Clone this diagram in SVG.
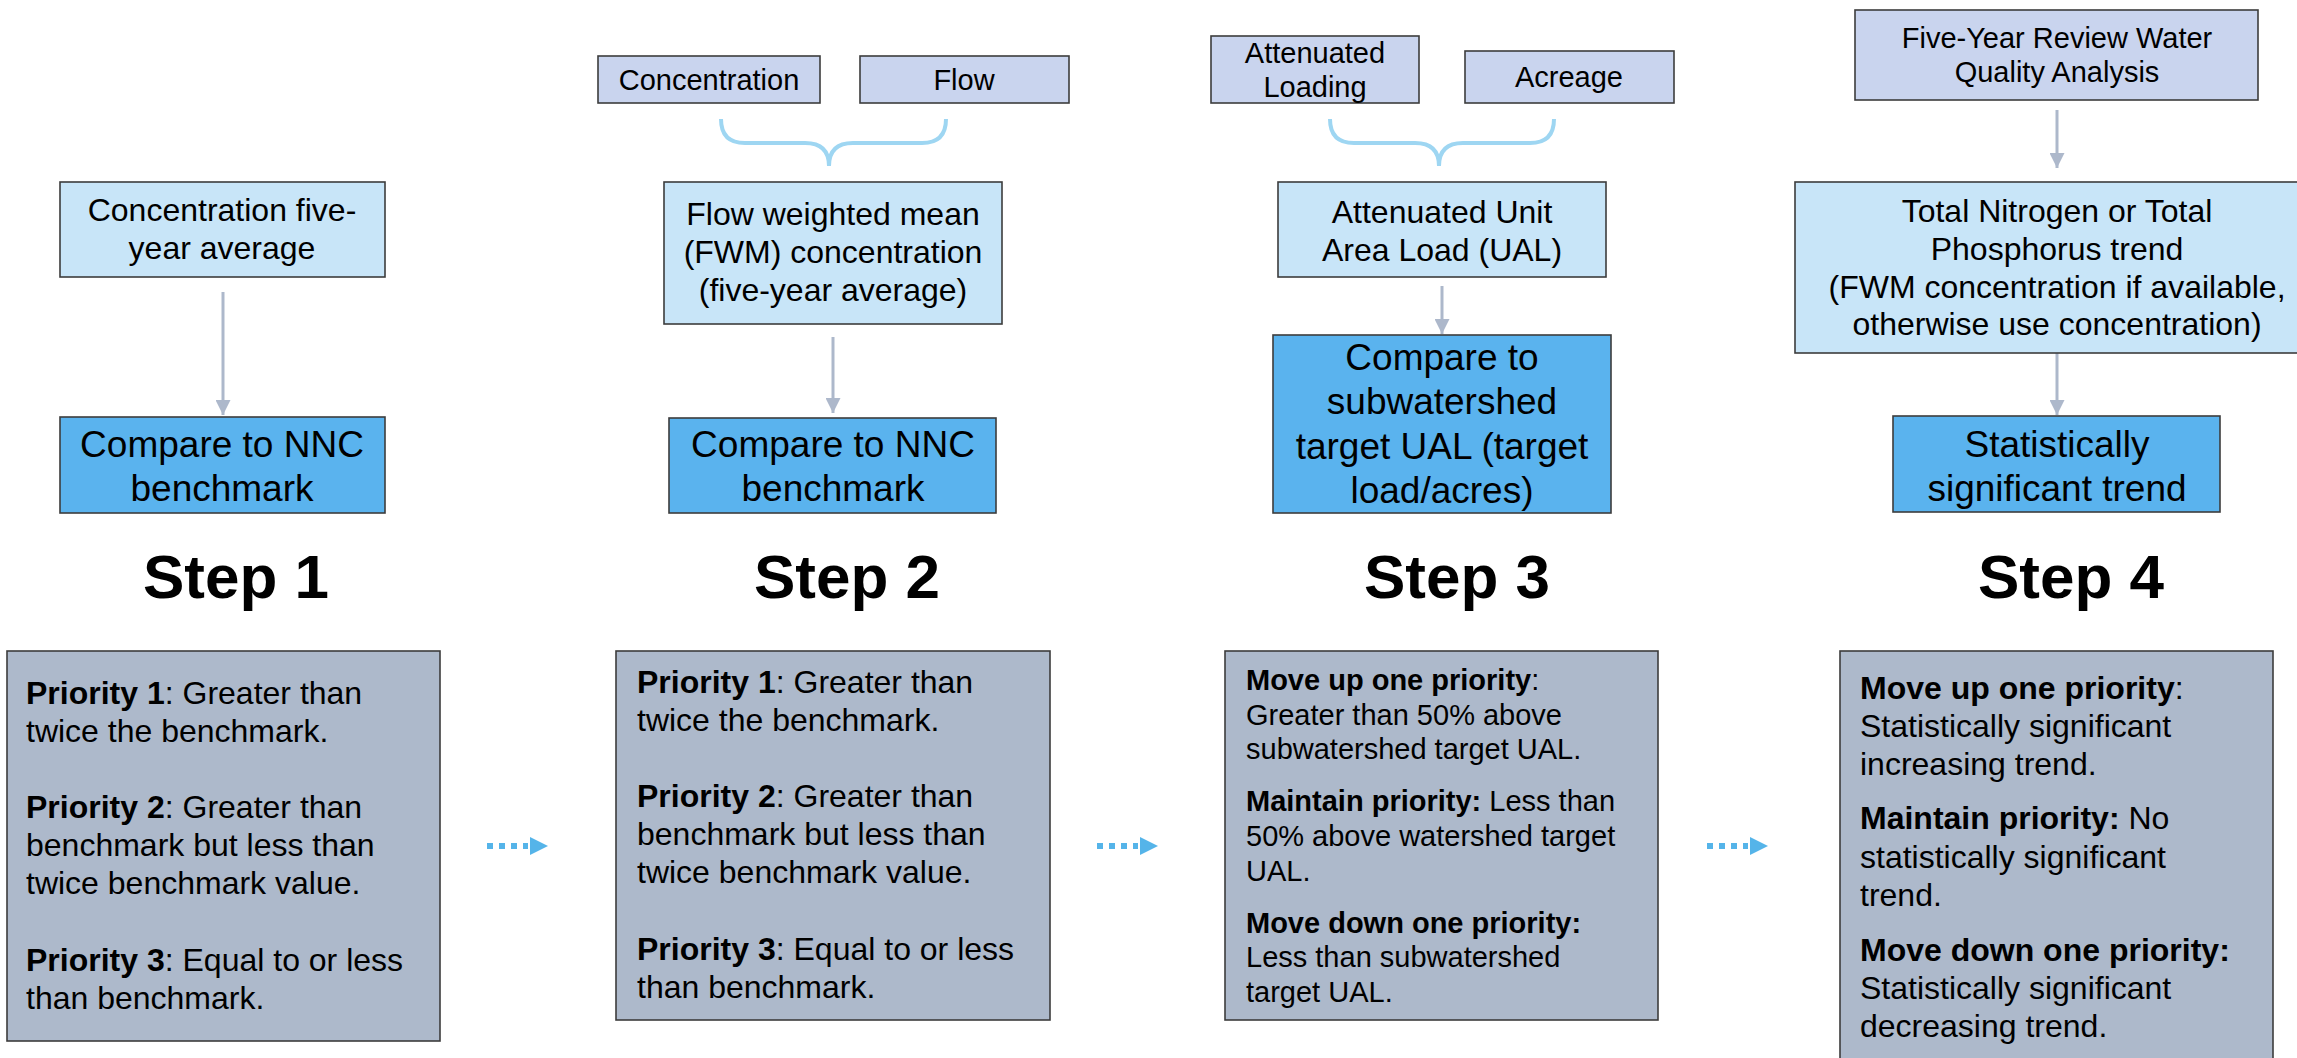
<svg xmlns="http://www.w3.org/2000/svg" width="2297" height="1058" viewBox="0 0 2297 1058">
<defs>
<style>
text{font-family:"Liberation Sans",Arial,sans-serif;fill:#000}
.box{stroke:#3c3c3c;stroke-width:1.6}
.in{fill:#C9D4EE}
.lt{fill:#C8E5F8}
.cmp{fill:#5AB3EE}
.pri{fill:#ADB9CB}
.t29{font-size:29px}
.t32{font-size:32px}
.t37{font-size:37px}
.c{text-anchor:middle}
.step{font-size:62px;font-weight:bold;text-anchor:middle}
.conn{stroke:#ADB8CB;stroke-width:3;fill:none}
.brace{stroke:#9ED6F2;stroke-width:4;fill:none}
.dot{stroke:#55B4E9;stroke-width:6;stroke-dasharray:6 6;fill:none}
b,.b{font-weight:bold}
</style>
<marker id="ah" markerWidth="5" markerHeight="5" refX="5" refY="2.5" orient="auto" markerUnits="strokeWidth">
<path d="M0,0 L5,2.5 L0,5 Z" fill="#ADB8CB"/>
</marker>
</defs>
<rect width="2297" height="1058" fill="#fff"/>

<g id="connectors">
<path class="conn" d="M223,292 V415" marker-end="url(#ah)"/>
<path class="conn" d="M833,337 V413" marker-end="url(#ah)"/>
<path class="conn" d="M1442,286 V334" marker-end="url(#ah)"/>
<path class="conn" d="M2057,110 V168" marker-end="url(#ah)"/>
<path class="conn" d="M2057,353 V415" marker-end="url(#ah)"/>
<path class="brace" d="M721,119 Q721,143 745,143 L805,143 Q829,143 829,166 Q829,143 853,143 L922,143 Q946,143 946,119"/>
<path class="brace" d="M1330,119 Q1330,143 1354,143 L1415,143 Q1439,143 1439,166 Q1439,143 1463,143 L1530,143 Q1554,143 1554,119"/>
<g id="flow12"><path class="dot" d="M487,846 H528"/><path d="M530,837 L548,846 L530,855 Z" fill="#55B4E9"/></g>
<g id="flow23"><path class="dot" d="M1097,846 H1138"/><path d="M1140,837 L1158,846 L1140,855 Z" fill="#55B4E9"/></g>
<g id="flow34"><path class="dot" d="M1707,846 H1748"/><path d="M1750,837 L1768,846 L1750,855 Z" fill="#55B4E9"/></g>
</g>

<g id="step1">
<g id="s1-input"><rect class="box lt" x="60" y="182" width="325" height="95"/>
<text class="t32 c" x="222" y="221">Concentration five-</text>
<text class="t32 c" x="222" y="259">year average</text></g>
<g id="s1-compare"><rect class="box cmp" x="60" y="417" width="325" height="96"/>
<text class="t37 c" x="222" y="457">Compare to NNC</text>
<text class="t37 c" x="222" y="501">benchmark</text></g>
<text id="s1-label" class="step" x="236" y="598">Step 1</text>
<g id="s1-priority"><rect class="box pri" x="7" y="651" width="433" height="390"/>
<text class="t32" x="26" y="704"><tspan class="b">Priority 1</tspan>: Greater than</text>
<text class="t32" x="26" y="742">twice the benchmark.</text>
<text class="t32" x="26" y="818"><tspan class="b">Priority 2</tspan>: Greater than</text>
<text class="t32" x="26" y="856">benchmark but less than</text>
<text class="t32" x="26" y="894">twice benchmark value.</text>
<text class="t32" x="26" y="971"><tspan class="b">Priority 3</tspan>: Equal to or less</text>
<text class="t32" x="26" y="1009">than benchmark.</text></g>
</g>

<g id="step2">
<g id="s2-conc"><rect class="box in" x="598" y="56" width="222" height="47"/>
<text class="t29 c" x="709" y="90">Concentration</text></g>
<g id="s2-flow"><rect class="box in" x="860" y="56" width="209" height="47"/>
<text class="t29 c" x="964" y="90">Flow</text></g>
<g id="s2-fwm"><rect class="box lt" x="664" y="182" width="338" height="142"/>
<text class="t32 c" x="833" y="225">Flow weighted mean</text>
<text class="t32 c" x="833" y="263">(FWM) concentration</text>
<text class="t32 c" x="833" y="301">(five-year average)</text></g>
<g id="s2-compare"><rect class="box cmp" x="669" y="418" width="327" height="95"/>
<text class="t37 c" x="833" y="457">Compare to NNC</text>
<text class="t37 c" x="833" y="501">benchmark</text></g>
<text id="s2-label" class="step" x="847" y="598">Step 2</text>
<g id="s2-priority"><rect class="box pri" x="616" y="651" width="434" height="369"/>
<text class="t32" x="637" y="693"><tspan class="b">Priority 1</tspan>: Greater than</text>
<text class="t32" x="637" y="731">twice the benchmark.</text>
<text class="t32" x="637" y="807"><tspan class="b">Priority 2</tspan>: Greater than</text>
<text class="t32" x="637" y="845">benchmark but less than</text>
<text class="t32" x="637" y="883">twice benchmark value.</text>
<text class="t32" x="637" y="960"><tspan class="b">Priority 3</tspan>: Equal to or less</text>
<text class="t32" x="637" y="998">than benchmark.</text></g>
</g>

<g id="step3">
<g id="s3-load"><rect class="box in" x="1211" y="36" width="208" height="67"/>
<text class="t29 c" x="1315" y="63">Attenuated</text>
<text class="t29 c" x="1315" y="97">Loading</text></g>
<g id="s3-acre"><rect class="box in" x="1465" y="51" width="209" height="52"/>
<text class="t29 c" x="1569" y="87">Acreage</text></g>
<g id="s3-ual"><rect class="box lt" x="1278" y="182" width="328" height="95"/>
<text class="t32 c" x="1442" y="223">Attenuated Unit</text>
<text class="t32 c" x="1442" y="261">Area Load (UAL)</text></g>
<g id="s3-compare"><rect class="box cmp" x="1273" y="335" width="338" height="178"/>
<text class="t37 c" x="1442" y="370">Compare to</text>
<text class="t37 c" x="1442" y="414">subwatershed</text>
<text class="t37 c" x="1442" y="459">target UAL (target</text>
<text class="t37 c" x="1442" y="503">load/acres)</text></g>
<text id="s3-label" class="step" x="1457" y="598">Step 3</text>
<g id="s3-priority"><rect class="box pri" x="1225" y="651" width="433" height="369"/>
<text class="t29" x="1246" y="690"><tspan class="b">Move up one priority</tspan>:</text>
<text class="t29" x="1246" y="725">Greater than 50% above</text>
<text class="t29" x="1246" y="759">subwatershed target UAL.</text>
<text class="t29" x="1246" y="811"><tspan class="b">Maintain priority:</tspan> Less than</text>
<text class="t29" x="1246" y="846">50% above watershed target</text>
<text class="t29" x="1246" y="881">UAL.</text>
<text class="t29" x="1246" y="933"><tspan class="b">Move down one priority:</tspan></text>
<text class="t29" x="1246" y="967">Less than subwatershed</text>
<text class="t29" x="1246" y="1002">target UAL.</text></g>
</g>

<g id="step4">
<g id="s4-review"><rect class="box in" x="1855" y="10" width="403" height="90"/>
<text class="t29 c" x="2057" y="48">Five-Year Review Water</text>
<text class="t29 c" x="2057" y="82">Quality Analysis</text></g>
<g id="s4-trend"><rect class="box lt" x="1795" y="182" width="524" height="171"/>
<text class="t32 c" x="2057" y="222">Total Nitrogen or Total</text>
<text class="t32 c" x="2057" y="260">Phosphorus trend</text>
<text class="t32 c" x="2057" y="298">(FWM concentration if available,</text>
<text class="t32 c" x="2057" y="335">otherwise use concentration)</text></g>
<g id="s4-compare"><rect class="box cmp" x="1893" y="416" width="327" height="96"/>
<text class="t37 c" x="2057" y="457">Statistically</text>
<text class="t37 c" x="2057" y="501">significant trend</text></g>
<text id="s4-label" class="step" x="2071" y="598">Step 4</text>
<g id="s4-priority"><rect class="box pri" x="1840" y="651" width="433" height="430"/>
<text class="t32" x="1860" y="699"><tspan class="b">Move up one priority</tspan>:</text>
<text class="t32" x="1860" y="737">Statistically significant</text>
<text class="t32" x="1860" y="775">increasing trend.</text>
<text class="t32" x="1860" y="829"><tspan class="b">Maintain priority:</tspan> No</text>
<text class="t32" x="1860" y="868">statistically significant</text>
<text class="t32" x="1860" y="906">trend.</text>
<text class="t32" x="1860" y="961"><tspan class="b">Move down one priority:</tspan></text>
<text class="t32" x="1860" y="999">Statistically significant</text>
<text class="t32" x="1860" y="1037">decreasing trend.</text></g>
</g>
</svg>
